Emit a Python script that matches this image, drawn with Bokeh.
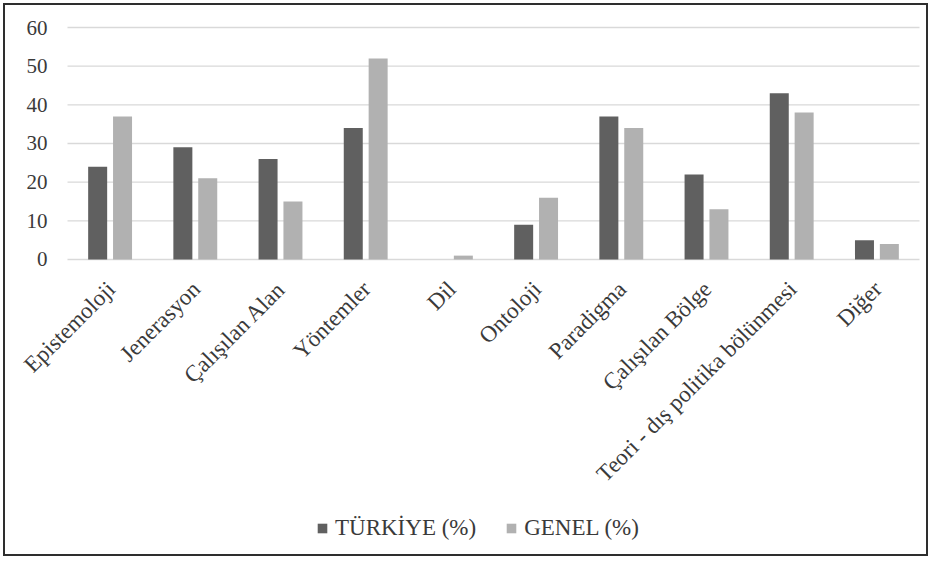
import math
import numpy as np
from bokeh.plotting import figure
from bokeh.models import ColumnDataSource, Range1d, Legend, LegendItem
from bokeh.transform import dodge
from bokeh.core.properties import value
from bokeh.embed import file_html
from bokeh.resources import INLINE

categories = ["Epistemoloji", "Jenerasyon", "Çalışılan Alan", "Yöntemler", "Dil",
              "Ontoloji", "Paradigma", "Çalışılan Bölge", "Teori - dış politika bölünmesi", "Diğer"]
turkiye = [24, 29, 26, 34, 0, 9, 37, 22, 43, 5]
genel = [37, 21, 15, 52, 1, 16, 34, 13, 38, 4]
series_names = ["TÜRKİYE (%)", "GENEL (%)"]
y_ticks = [0, 10, 20, 30, 40, 50, 60]
y_tick_labels = ["0", "10", "20", "30", "40", "50", "60"]

FONT = "Liberation Serif"
TEXT = "#3a3a3a"

n = len(categories)
# category slot centres on the plot's own x scale (slot i spans i..i+1)
source = ColumnDataSource(dict(x=np.arange(n) + 0.5, cat=categories, tr=turkiye, ge=genel))
ticks_src = ColumnDataSource(dict(y=y_ticks, lbl=y_tick_labels))

# the frame covers the whole canvas; labels, ticks and legend are drawn inside it
p = figure(x_range=Range1d(-0.7277, n + 0.129), y_range=Range1d(-77.33, 65.69),
           width=925, height=553, output_backend="svg", toolbar_location=None,
           x_axis_location=None, y_axis_location=None,
           min_border_left=0, min_border_right=0, min_border_top=0, min_border_bottom=0)
p.styles = {"border": "2px solid #2e2e2e", "margin-left": "3px", "margin-top": "3px"}
p.outline_line_color = None
p.xgrid.grid_line_color = None
p.ygrid.grid_line_color = None

# horizontal gridlines across the category area
p.segment(x0=0, x1=n, y0="y", y1="y", source=ticks_src,
          line_color="#d9d9d9", line_width=1.3)

r1 = p.vbar(x=dodge("x", -0.146), top="tr", width=0.223, source=source,
            fill_color="#606060", line_color=None)
r2 = p.vbar(x=dodge("x", 0.146), top="ge", width=0.223, source=source,
            fill_color="#b1b1b1", line_color=None)

# y tick labels
p.text(x=0, y="y", text="lbl", source=ticks_src, x_offset=-20,
       text_align="right", text_baseline="middle",
       text_font=value(FONT), text_font_size=value("21px"), text_color=TEXT)

# category labels, rotated 45 degrees
p.text(x=dodge("x", 0.012), y=-6.7, text="cat", source=source,
       angle=math.pi / 4, text_align="right", text_baseline="middle",
       text_font=value(FONT), text_font_size=value("23px"), text_color=TEXT)

legend = Legend(items=[LegendItem(label=series_names[0], renderers=[r1]),
                       LegendItem(label=series_names[1], renderers=[r2])],
                orientation="horizontal", location=(311, 17))
legend.label_text_font = FONT
legend.label_text_font_size = "23px"
legend.label_text_color = TEXT
legend.glyph_width = 12
legend.glyph_height = 12
legend.label_standoff = 7
legend.spacing = 29
legend.border_line_color = None
legend.background_fill_alpha = 0
legend.margin = 0
legend.padding = 0
p.add_layout(legend, "center")

open("out.html", "w").write(file_html(p, INLINE))
